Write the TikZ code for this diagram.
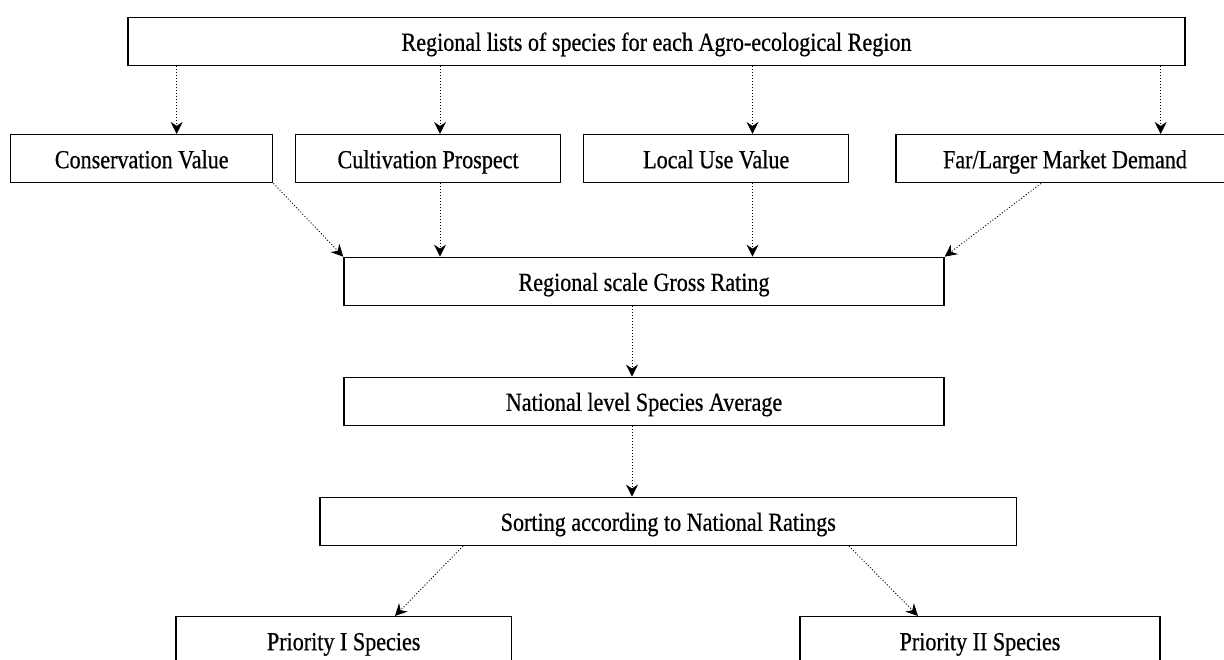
\documentclass[tikz,border=0pt]{standalone}
\usepackage{fontspec}
\setmainfont{Liberation Serif}[FakeStretch=0.85,FakeBold=0.6]
\usetikzlibrary{arrows.meta}
\tikzset{
  box/.style={draw, line width=1.5pt, fill=white, minimum height=48pt, inner sep=0pt, text height=24pt, text depth=5pt, font=\fontsize{26pt}{30pt}\selectfont},
  arr/.style={line width=0.9pt, dash pattern=on 1pt off 2pt, -{Stealth[length=12pt,width=12pt,inset=4pt]}}
}
\begin{document}
\begin{tikzpicture}[x=1pt,y=-1pt]
\useasboundingbox (0,0) rectangle (1224,660);
\clip (0,0) rectangle (1224,660);
\node[box, minimum width=1057pt] (top) at (656.5,41.3) {Regional lists of species for each Agro-ecological Region};
\node[box, minimum width=262pt] (cons) at (141.7,158.7) {Conservation Value};
\node[box, minimum width=265pt] (cult) at (428.1,158.7) {Cultivation Prospect};
\node[box, minimum width=265pt] (local) at (716.2,158.7) {Local Use Value};
\node[box, minimum width=338pt] (far) at (1065,158.7) {Far/Larger Market Demand};
\node[box, minimum width=600pt] (reg) at (644,281.4) {Regional scale Gross Rating};
\node[box, minimum width=600pt] (nat) at (644,401.3) {National level Species Average};
\node[box, minimum width=696.7pt] (sort) at (668.3,521.3) {Sorting according to National Ratings};
\node[box, minimum width=335.4pt] (p1) at (343.7,640.7) {Priority I Species};
\node[box, minimum width=360pt] (p2) at (980,640.7) {Priority II Species};
\coordinate (xa) at (176.7,0);
\coordinate (xb) at (440,0);
\coordinate (xc) at (752.5,0);
\coordinate (xd) at (1160.7,0);
\coordinate (xe) at (1041,0);
\coordinate (xf) at (632,0);
\coordinate (xg) at (463,0);
\coordinate (xh) at (395,0);
\coordinate (xi) at (849,0);
\coordinate (xj) at (918,0);
\draw[arr] (top.south -| xa) -- (cons.north -| xa);
\draw[arr] (top.south -| xb) -- (cult.north -| xb);
\draw[arr] (top.south -| xc) -- (local.north -| xc);
\draw[arr] (top.south -| xd) -- (far.north -| xd);
\draw[arr] (cons.south east) -- (reg.north west);
\draw[arr] (cult.south -| xb) -- (reg.north -| xb);
\draw[arr] (local.south -| xc) -- (reg.north -| xc);
\draw[arr] (far.south -| xe) -- (reg.north east);
\draw[arr] (reg.south -| xf) -- (nat.north -| xf);
\draw[arr] (nat.south -| xf) -- (sort.north -| xf);
\draw[arr] (sort.south -| xg) -- (p1.north -| xh);
\draw[arr] (sort.south -| xi) -- (p2.north -| xj);
\end{tikzpicture}
\end{document}
